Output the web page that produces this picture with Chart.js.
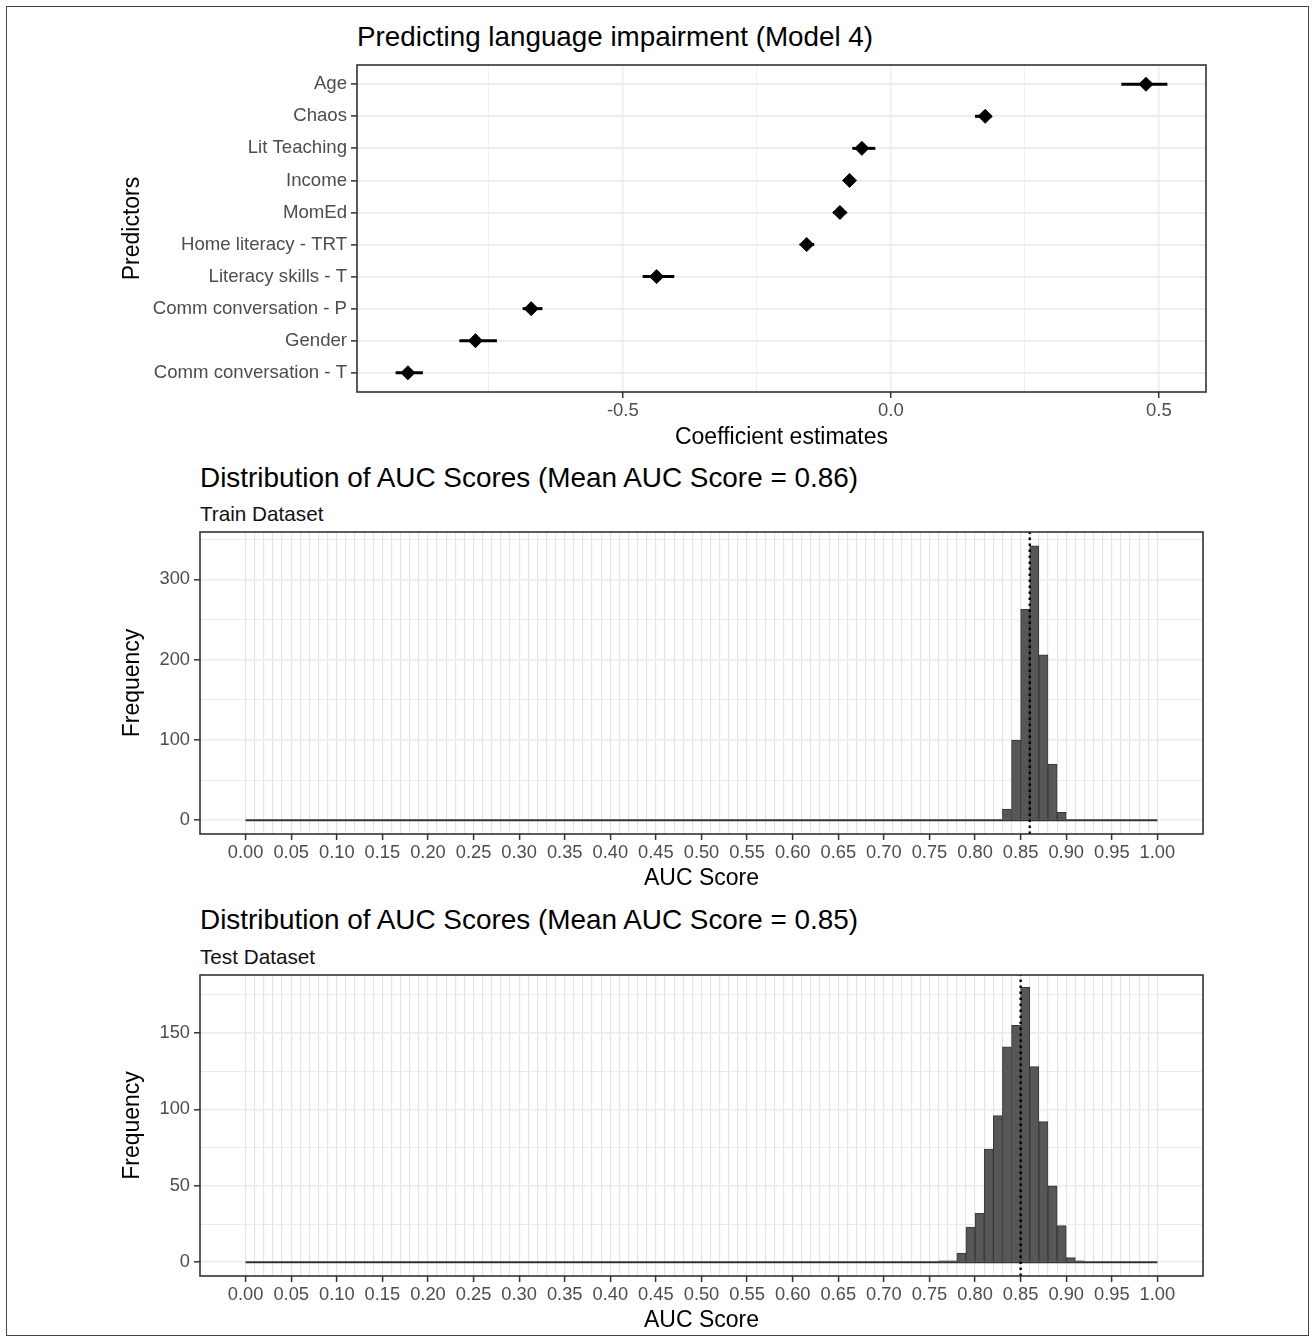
<!DOCTYPE html>
<html>
<head>
<meta charset="utf-8">
<script src="https://cdn.jsdelivr.net/npm/chart.js@4.4.1/dist/chart.umd.min.js"></script>
<style>
  body { margin: 0; background: #fff; font-family: "Liberation Sans", Arial, sans-serif; }
  #frame { position: absolute; left: 6px; top: 6px; width: 1301px; height: 1328px; border: 1.5px solid #444; }
  .title { position: absolute; color: #000; white-space: nowrap; line-height: 1; }
  .sub { position: absolute; color: #111; white-space: nowrap; line-height: 1; }
  .box { position: absolute; left: 0; width: 1315px; }
</style>
</head>
<body>
<div id="frame"></div>
<div class="title" style="left:357px; top:23px; font-size:27.8px;">Predicting language impairment (Model 4)</div>
<div class="title" style="left:200px; top:464px; font-size:27.9px;">Distribution of AUC Scores (Mean AUC Score = 0.86)</div>
<div class="sub" style="left:200px; top:504px; font-size:20.7px;">Train Dataset</div>
<div class="title" style="left:200px; top:906px; font-size:27.9px;">Distribution of AUC Scores (Mean AUC Score = 0.85)</div>
<div class="sub" style="left:200px; top:947px; font-size:20.7px;">Test Dataset</div>

<div class="box" style="top:35px; height:416px;"><canvas id="coefChart"></canvas></div>
<div class="box" style="top:500px; height:392px;"><canvas id="trainChart"></canvas></div>
<div class="box" style="top:943px; height:391px;"><canvas id="testChart"></canvas></div>

<script>
// model 4 coefficients, top to bottom
const predictors = ["Age", "Chaos", "Lit Teaching", "Income", "MomEd", "Home literacy - TRT",
  "Literacy skills - T", "Comm conversation - P", "Gender", "Comm conversation - T"];
const estimates = [0.476, 0.176, -0.054, -0.077, -0.095, -0.157, -0.437, -0.671, -0.775, -0.901];
const ciLow = [0.430, 0.157, -0.072, -0.085, -0.108, -0.170, -0.463, -0.687, -0.805, -0.924];
const ciHigh = [0.516, 0.188, -0.029, -0.068, -0.083, -0.143, -0.404, -0.650, -0.735, -0.873];
const coefTicks = [-0.5, 0, 0.5];

// AUC histograms (bin start, count), binwidth 0.01
const binWidth = 0.01;
const trainBins = [0.83, 0.84, 0.85, 0.86, 0.87, 0.88, 0.89];
const trainCounts = [14, 100, 263, 342, 206, 70, 10];
const trainMean = 0.86;
const testBins = [0.76, 0.77, 0.78, 0.79, 0.80, 0.81, 0.82, 0.83, 0.84, 0.85, 0.86, 0.87, 0.88, 0.89, 0.90, 0.91];
const testCounts = [1, 1, 6, 23, 32, 74, 96, 141, 155, 180, 128, 92, 50, 24, 3, 1];
const testMean = 0.85;
const aucRange = [0, 1];
const aucTicks = [0, 0.05, 0.10, 0.15, 0.20, 0.25, 0.30, 0.35, 0.40, 0.45, 0.50,
  0.55, 0.60, 0.65, 0.70, 0.75, 0.80, 0.85, 0.90, 0.95, 1.00];
const trainFreqTicks = [0, 100, 200, 300];
const testFreqTicks = [0, 50, 100, 150];

Chart.defaults.font.family = '"Liberation Sans", Arial, sans-serif';
Chart.defaults.animation = false;

const gridGrey = "#ebebeb";
const tickGrey = "#4d4d4d";
const darkLine = "#333333";

// ggplot style panel border
const panelBorder = {
  id: "panelBorder",
  afterDraw(chart) {
    const { ctx, chartArea: a } = chart;
    ctx.save();
    ctx.strokeStyle = darkLine;
    ctx.lineWidth = 1.6;
    ctx.strokeRect(a.left, a.top, a.right - a.left, a.bottom - a.top);
    ctx.restore();
  },
};

const isIn = (list, v) => list.some((t) => Math.abs(t - v) < 1e-9);

// coefficient plot
const coefGrid = [-0.75, -0.5, -0.25, 0, 0.25, 0.5];
const errorBars = predictors.map((p, i) => ({
  label: p,
  data: [{ x: ciLow[i], y: i + 1 }, { x: ciHigh[i], y: i + 1 }],
  showLine: true,
  borderColor: "#000",
  borderWidth: 3,
  pointRadius: 0,
  order: 1,
}));

new Chart(document.getElementById("coefChart"), {
  type: "scatter",
  data: {
    datasets: [
      {
        label: "estimate",
        data: estimates.map((e, i) => ({ x: e, y: i + 1 })),
        pointStyle: "rectRot",
        pointRadius: 7,
        backgroundColor: "#000",
        borderColor: "#000",
        order: 0,
      },
      ...errorBars,
    ],
  },
  options: {
    responsive: true,
    maintainAspectRatio: false,
    layout: { padding: { left: 119, right: 109, top: 30, bottom: 0 } },
    plugins: { legend: { display: false }, tooltip: { enabled: false } },
    scales: {
      x: {
        type: "linear",
        min: -0.996,
        max: 0.588,
        afterBuildTicks: (scale) => { scale.ticks = coefGrid.map((v) => ({ value: v })); },
        afterFit: (scale) => { scale.height = 59; },
        border: { display: false },
        grid: {
          color: gridGrey,
          lineWidth: (ctx) => (isIn(coefTicks, ctx.tick.value) ? 1.4 : 0.8),
          tickColor: (ctx) => (isIn(coefTicks, ctx.tick.value) ? darkLine : "rgba(0,0,0,0)"),
          tickLength: 6,
          tickWidth: 1.5,
        },
        ticks: {
          autoSkip: false,
          maxRotation: 0,
          padding: 2,
          color: tickGrey,
          font: { size: 18.5 },
          callback: (v) => (isIn(coefTicks, v) ? v.toFixed(1) : ""),
        },
        title: { display: true, text: "Coefficient estimates", color: "#000", font: { size: 23 }, padding: 0 },
      },
      y: {
        type: "linear",
        reverse: true,
        min: 0.4,
        max: 10.6,
        afterBuildTicks: (scale) => { scale.ticks = predictors.map((p, i) => ({ value: i + 1 })); },
        afterFit: (scale) => { scale.width = 238; },
        border: { display: false },
        grid: { color: gridGrey, lineWidth: 1.8, tickColor: darkLine, tickLength: 6, tickWidth: 1.5 },
        ticks: {
          autoSkip: false,
          padding: 4,
          color: tickGrey,
          font: { size: 18.6 },
          callback: (v) => predictors[Math.round(v) - 1],
        },
        title: { display: true, text: "Predictors", color: "#000", font: { size: 23 }, padding: 0 },
      },
    },
  },
  plugins: [panelBorder],
});

// histogram panels
function histChart(id, bins, counts, mean, yMin, yMax, minorStep, freqTicks) {
  const xGrid = Array.from({ length: 101 }, (_, i) => i / 100);
  const yGrid = [];
  for (let v = 0; v <= yMax; v += minorStep) yGrid.push(v);

  return new Chart(document.getElementById(id), {
    type: "bar",
    data: {
      datasets: [
        {
          type: "line",
          label: "mean",
          data: [{ x: mean, y: yMin }, { x: mean, y: yMax }],
          borderColor: "#000",
          borderWidth: 2.4,
          borderDash: [2.5, 3.5],
          pointRadius: 0,
          order: 0,
        },
        {
          label: "count",
          data: bins.map((b, i) => ({ x: b + binWidth / 2, y: counts[i] })),
          backgroundColor: "#575757",
          borderColor: "#383838",
          borderWidth: 1,
          barPercentage: 1,
          categoryPercentage: 1,
          order: 1,
        },
        {
          type: "line",
          label: "zero bins",
          data: aucRange.map((x) => ({ x: x, y: 0 })),
          borderColor: darkLine,
          borderWidth: 2,
          pointRadius: 0,
          order: 2,
        },
      ],
    },
    options: {
      responsive: true,
      maintainAspectRatio: false,
      layout: { padding: { left: 119, right: 112, top: 32, bottom: 0 } },
      plugins: { legend: { display: false }, tooltip: { enabled: false } },
      scales: {
        x: {
          type: "linear",
          offset: false,
          min: -0.05,
          max: 1.05,
          afterBuildTicks: (scale) => { scale.ticks = xGrid.map((v) => ({ value: v })); },
          afterFit: (scale) => { scale.height = 58; },
          border: { display: false },
          grid: {
            offset: false,
            color: "#e3e3e3",
            lineWidth: 1.2,
            tickColor: (ctx) => (isIn(aucTicks, ctx.tick.value) ? darkLine : "rgba(0,0,0,0)"),
            tickLength: 6,
            tickWidth: 1.5,
          },
          ticks: {
            autoSkip: false,
            maxRotation: 0,
            minRotation: 0,
            padding: 2,
            color: tickGrey,
            font: { size: 18.3 },
            callback: (v) => (isIn(aucTicks, v) ? v.toFixed(2) : ""),
          },
          title: { display: true, text: "AUC Score", color: "#000", font: { size: 23 }, padding: 0 },
        },
        y: {
          type: "linear",
          min: yMin,
          max: yMax,
          afterBuildTicks: (scale) => { scale.ticks = yGrid.map((v) => ({ value: v })); },
          afterFit: (scale) => { scale.width = 81; },
          border: { display: false },
          grid: {
            color: gridGrey,
            lineWidth: (ctx) => (isIn(freqTicks, ctx.tick.value) ? 1.6 : 1.0),
            tickColor: (ctx) => (isIn(freqTicks, ctx.tick.value) ? darkLine : "rgba(0,0,0,0)"),
            tickLength: 6,
            tickWidth: 1.5,
          },
          ticks: {
            autoSkip: false,
            padding: 4,
            color: tickGrey,
            font: { size: 18.3 },
            callback: (v) => (isIn(freqTicks, v) ? String(v) : ""),
          },
          title: { display: true, text: "Frequency", color: "#000", font: { size: 23 }, padding: 0 },
        },
      },
    },
    plugins: [panelBorder],
  });
}

histChart("trainChart", trainBins, trainCounts, trainMean, -17.1, 359.1, 50, trainFreqTicks);
histChart("testChart", testBins, testCounts, testMean, -9, 188, 25, testFreqTicks);
</script>
</body>
</html>
